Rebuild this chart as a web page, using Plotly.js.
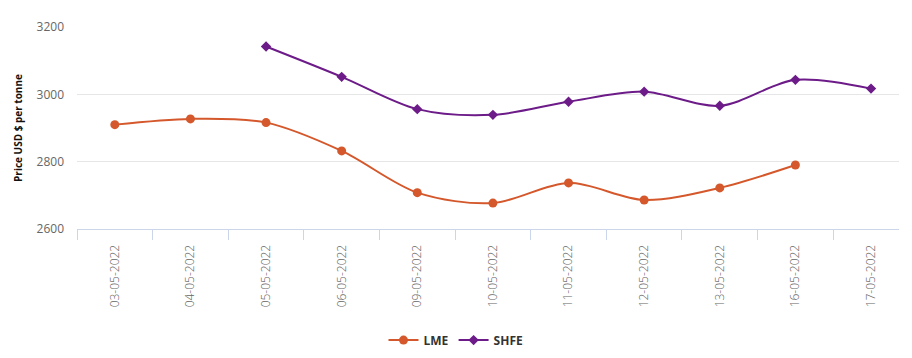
<!DOCTYPE html>
<html>
<head>
<meta charset="utf-8">
<script src="https://cdn.plot.ly/plotly-3.0.1.min.js"></script>
<style>html,body{margin:0;padding:0;background:#fff;}#chart{width:912px;height:358px;}</style>
</head>
<body>
<div id="chart"></div>
<script>
const dates = ["03-05-2022","04-05-2022","05-05-2022","06-05-2022","09-05-2022","10-05-2022","11-05-2022","12-05-2022","13-05-2022","16-05-2022","17-05-2022"];
const lme = [2910, 2927, 2916, 2832, 2708, 2677, 2737, 2686, 2722, 2790, null];
const shfe = [null, null, 3142, 3052, 2956, 2939, 2978, 3008, 2966, 3043, 3017];
const yTicks = [2600, 2800, 3000, 3200];

const traces = [
  {x: dates, y: lme, name: "LME", type: "scatter", mode: "lines+markers",
   line: {color: "#d4582b", width: 2, shape: "spline", smoothing: 0.9},
   marker: {symbol: "circle", size: 9, color: "#d4582b"}},
  {x: dates, y: shfe, name: "SHFE", type: "scatter", mode: "lines+markers",
   line: {color: "#6c1b88", width: 2, shape: "spline", smoothing: 0.9},
   marker: {symbol: "diamond", size: 8, color: "#6c1b88"}}
];

const layout = {
  width: 912, height: 358,
  margin: {l: 77, r: 13, t: 27, b: 129, autoexpand: false},
  paper_bgcolor: "#fff", plot_bgcolor: "#fff",
  font: {family: "Open Sans, sans-serif", color: "#666"},
  showlegend: true,
  legend: {orientation: "h", x: 0.5, xanchor: "center", xref: "container",
           y: 0.05, yanchor: "middle", yref: "container",
           font: {size: 12, color: "#333", family: "Open Sans, sans-serif", weight: "bold"}, tracegroupgap: 0},
  xaxis: {type: "category", range: [-0.5, 10.37], tickangle: -90, automargin: false,
          tickfont: {size: 12, color: "#666", weight: 300},
          ticks: "outside", tickson: "boundaries", ticklen: 10, tickcolor: "#ccd6eb",
          ticklabelstandoff: 10,
          showline: true, linecolor: "#ccd6eb", linewidth: 1,
          showgrid: false, zeroline: false, fixedrange: true},
  yaxis: {range: [2600, 3200], tickvals: yTicks, ticktext: yTicks.map(String), automargin: false,
          tickfont: {size: 12, color: "#666"},
          ticklabelstandoff: 12,
          showgrid: true, gridcolor: "#e6e6e6", gridwidth: 1,
          showline: false, zeroline: false,
          title: {text: "Price USD $ per tonne", font: {size: 10, color: "#111", family: "Open Sans, sans-serif", weight: "bold"}, standoff: 12}}
};

Plotly.newPlot("chart", traces, layout, {displayModeBar: false, staticPlot: true});
</script>
</body>
</html>
